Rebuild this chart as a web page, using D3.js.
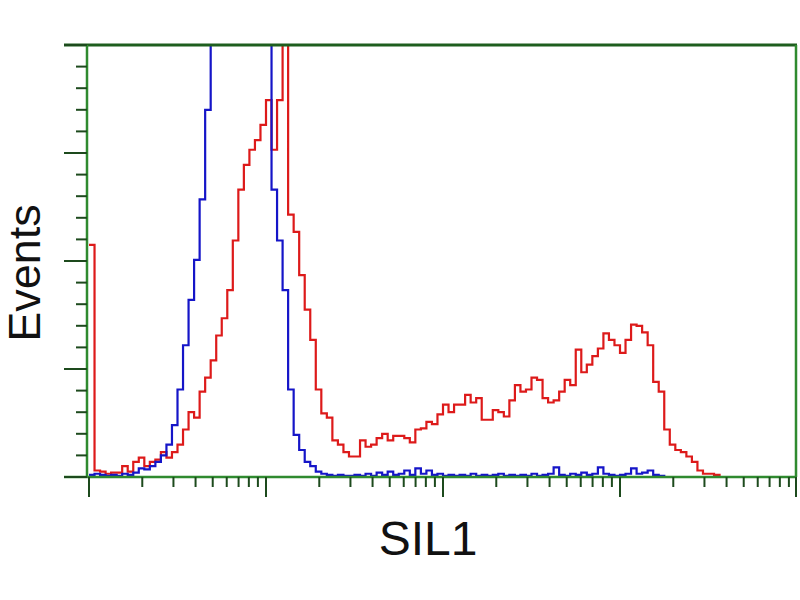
<!DOCTYPE html>
<html>
<head>
<meta charset="utf-8">
<script src="https://cdn.jsdelivr.net/npm/d3@7"></script>
<style>
  body { margin: 0; background: #fff; }
  text { font-family: Arial, "Liberation Sans", sans-serif; fill: #111; }
</style>
</head>
<body>
<div id="chart"></div>
<script>
// histogram counts, one value per 2 channels (256 channels over 4 log decades)
let redCounts = [
  215, 6, 5, 3, 4, 4, 10, 5, 14, 18,
  10, 14, 16, 23, 18, 23, 30, 44, 60, 55,
  79, 92, 108, 131, 147, 173, 219, 266, 289, 303,
  312, 326, 349, 303, 349, 430, 243, 227, 187, 155,
  127, 81, 59, 55, 34, 30, 23, 19, 19, 34,
  28, 30, 36, 40, 34, 38, 38, 36, 32, 44,
  45, 51, 49, 58, 67, 60, 67, 67, 76, 69,
  73, 53, 53, 62, 60, 56, 71, 85, 79, 81,
  92, 90, 73, 69, 71, 79, 90, 85, 118, 97,
  104, 112, 119, 133, 127, 122, 115, 127, 141, 140,
  134, 122, 88, 79, 44, 30, 25, 23, 19, 14,
  6, 3, 3, 2, 0
];

let blueCounts = [
  2, 3, 2, 1, 2, 1, 3, 2, 4, 8,
  7, 10, 14, 20, 30, 48, 81, 122, 164, 201,
  257, 340, 450, 520, 580, 630, 670, 690, 660, 610,
  550, 480, 420, 266, 219, 173, 81, 39, 25, 14,
  10, 5, 3, 2, 1, 2, 1, 1, 2, 1,
  3, 1, 4, 2, 5, 2, 3, 6, 2, 8,
  3, 6, 2, 3, 1, 2, 1, 2, 1, 3,
  1, 2, 1, 2, 3, 1, 2, 1, 2, 1,
  3, 1, 2, 3, 9, 2, 1, 3, 2, 4,
  2, 3, 9, 3, 2, 1, 2, 3, 8, 3,
  4, 6, 2, 1, 0
];

let xDecades = [1, 10, 100, 1000, 10000];
let xLabel = "SIL1";
let yLabel = "Events";

let width = 800,
    height = 600,
    plotLeft = 87,
    plotRight = 797,
    plotTop = 45,
    plotBottom = 477,
    binChannels = 2;

let svg = d3.select("#chart").append("svg")
    .attr("width", width)
    .attr("height", height);

svg.append("rect")
    .attr("width", width)
    .attr("height", height)
    .attr("fill", "#fff");

/* Scales */
let xLog = d3.scaleLog()
    .domain([xDecades[0], xDecades[xDecades.length - 1]])
    .range([89, plotRight]);

let xChan = d3.scaleLinear()
    .domain([0, 256])
    .range([89, plotRight]);

let yScale = d3.scaleLinear()
    .domain([0, 400])
    .range([plotBottom, plotTop]);

/* Clip for the histogram lines */
svg.append("clipPath")
    .attr("id", "plot-clip")
    .append("rect")
    .attr("x", plotLeft)
    .attr("y", plotTop)
    .attr("width", plotRight - plotLeft)
    .attr("height", plotBottom - plotTop + 2);

let line = d3.line()
    .x(d => xChan(d[0]))
    .y(d => yScale(d[1]))
    .curve(d3.curveStepAfter);

function toSteps(counts) {
  let pts = counts.map((v, i) => [i * binChannels, v]);
  pts.push([counts.length * binChannels, counts[counts.length - 1]]);
  return pts;
}

let plot = svg.append("g").attr("clip-path", "url(#plot-clip)");

plot.append("path")
    .attr("d", line(toSteps(redCounts)))
    .attr("fill", "none")
    .attr("stroke", "#dd1a1a")
    .attr("stroke-width", 2.2);

plot.append("path")
    .attr("d", line(toSteps(blueCounts)))
    .attr("fill", "none")
    .attr("stroke", "#1515c8")
    .attr("stroke-width", 2.2);

/* Frame */
let frameColor = "#2f8a2f",
    tickColor = "#1d4a1d";

svg.append("line")
    .attr("x1", 64).attr("x2", plotRight)
    .attr("y1", plotTop).attr("y2", plotTop)
    .attr("stroke", "#1e5e1e")
    .attr("stroke-width", 3);

svg.append("line")
    .attr("x1", plotLeft).attr("x2", plotLeft)
    .attr("y1", plotTop).attr("y2", plotBottom)
    .attr("stroke", frameColor)
    .attr("stroke-width", 2.5);

svg.append("line")
    .attr("x1", plotRight - 1).attr("x2", plotRight - 1)
    .attr("y1", plotTop).attr("y2", plotBottom)
    .attr("stroke", frameColor)
    .attr("stroke-width", 2.5);

svg.append("line")
    .attr("x1", 64).attr("x2", plotRight)
    .attr("y1", plotBottom).attr("y2", plotBottom)
    .attr("stroke", frameColor)
    .attr("stroke-width", 2.5);

/* Y ticks */
let yMajor = yScale.ticks(4);
let yMinor = d3.range(0, 401, 20).filter(v => yMajor.indexOf(v) < 0);

svg.append("g").selectAll("line")
    .data(yMajor).enter()
    .append("line")
    .attr("x1", 64).attr("x2", plotLeft)
    .attr("y1", d => yScale(d)).attr("y2", d => yScale(d))
    .attr("stroke", tickColor)
    .attr("stroke-width", 2);

svg.append("g").selectAll("line")
    .data(yMinor).enter()
    .append("line")
    .attr("x1", 76).attr("x2", plotLeft)
    .attr("y1", d => yScale(d)).attr("y2", d => yScale(d))
    .attr("stroke", tickColor)
    .attr("stroke-width", 2);

/* X ticks (log) */
let xMinor = [];
xDecades.slice(0, -1).forEach(d => {
  for (let k = 2; k < 10; k++) xMinor.push(d * k);
});

svg.append("g").selectAll("line")
    .data(xDecades).enter()
    .append("line")
    .attr("x1", d => Math.min(xLog(d), plotRight - 1)).attr("x2", d => Math.min(xLog(d), plotRight - 1))
    .attr("y1", plotBottom).attr("y2", plotBottom + 20)
    .attr("stroke", tickColor)
    .attr("stroke-width", 2);

svg.append("g").selectAll("line")
    .data(xMinor).enter()
    .append("line")
    .attr("x1", d => xLog(d)).attr("x2", d => xLog(d))
    .attr("y1", plotBottom).attr("y2", plotBottom + 10)
    .attr("stroke", tickColor)
    .attr("stroke-width", 2);

/* Axis titles */
svg.append("text")
    .attr("x", 428)
    .attr("y", 555)
    .attr("text-anchor", "middle")
    .attr("font-size", 48)
    .text(xLabel);

svg.append("text")
    .attr("transform", "translate(40, 273) rotate(-90)")
    .attr("text-anchor", "middle")
    .attr("font-size", 45)
    .text(yLabel);
</script>
</body>
</html>
